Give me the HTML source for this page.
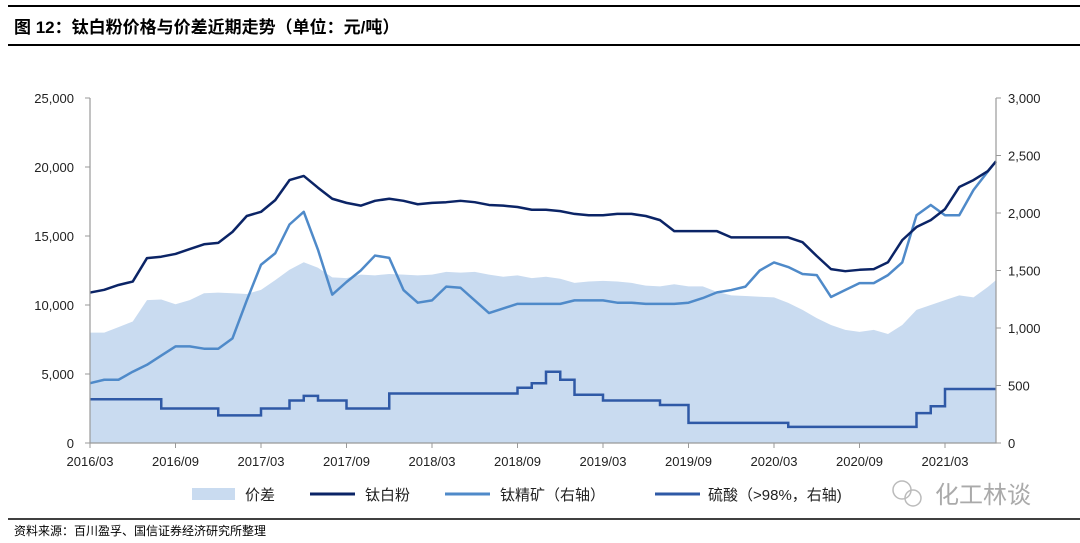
<!DOCTYPE html>
<html><head><meta charset="utf-8">
<style>
body{margin:0;width:1080px;height:543px;background:#fff;overflow:hidden;font-family:"Liberation Sans","Noto Sans CJK SC",sans-serif;}
svg{position:absolute;left:0;top:0;}
</style></head><body>
<svg width="1080" height="543">
<line x1="8" y1="6" x2="1080" y2="6" stroke="#000" stroke-width="2"/>
<text x="14" y="33" font-size="17" font-weight="bold" fill="#000">图 12：钛白粉价格与价差近期走势（单位：元/吨）</text>
<line x1="8" y1="45" x2="1080" y2="45" stroke="#000" stroke-width="2"/>
<g id="plot"></g>
<g id="legend" font-size="15" fill="#222">
 <rect x="192" y="488" width="43" height="12" fill="#c9dbf0"/>
 <text x="245" y="500">价差</text>
 <line x1="310" y1="494" x2="355" y2="494" stroke="#0b2466" stroke-width="3"/>
 <text x="365" y="500">钛白粉</text>
 <line x1="445" y1="494" x2="490" y2="494" stroke="#4f8ac9" stroke-width="3"/>
 <text x="500" y="500">钛精矿（右轴）</text>
 <line x1="655" y1="494" x2="700" y2="494" stroke="#2f59a6" stroke-width="3"/>
 <text x="708" y="500">硫酸（&gt;98%，右轴)</text>
</g>
<g>
 <circle cx="902" cy="490" r="9" fill="none" stroke="#bbb" stroke-width="1.5"/>
 <circle cx="913" cy="498" r="8" fill="none" stroke="#bbb" stroke-width="1.5"/>
 <text x="935" y="503" font-size="24" fill="#aaa">化工林谈</text>
</g>
<line x1="8" y1="519" x2="1080" y2="519" stroke="#000" stroke-width="1.5"/>
<text x="14" y="535" font-size="12" fill="#000">资料来源：百川盈孚、国信证券经济研究所整理</text>
</svg>
<script>
const xTickLabels=["2016/03","2016/09","2017/03","2017/09","2018/03","2018/09","2019/03","2019/09","2020/03","2020/09","2021/03"];
const leftTicks=[0,5000,10000,15000,20000,25000];
const rightTicks=[0,500,1000,1500,2000,2500,3000];
const tio2=[10900,11100,11450,11700,13400,13500,13700,14050,14400,14500,15300,16450,16750,17600,19050,19350,18500,17700,17400,17200,17550,17700,17550,17300,17400,17450,17550,17450,17250,17200,17100,16900,16900,16800,16600,16500,16500,16600,16600,16450,16150,15350,15350,15350,15350,14900,14900,14900,14900,14900,14550,13550,12600,12450,12550,12600,13100,14700,15650,16150,16950,18550,19050,19700,20400];
const ilmenite=[520,550,550,620,680,760,840,840,820,820,910,1240,1550,1650,1900,2010,1680,1290,1400,1500,1630,1610,1330,1220,1240,1360,1350,1240,1130,1170,1210,1210,1210,1210,1240,1240,1240,1220,1220,1210,1210,1210,1220,1260,1310,1330,1360,1500,1570,1530,1470,1460,1270,1330,1390,1390,1460,1570,1980,2070,1980,1980,2200,2360,2450];
const acid=[380,380,380,380,380,300,300,300,300,240,240,240,300,300,370,410,370,370,300,300,300,430,430,430,430,430,430,430,430,430,480,520,620,550,420,420,370,370,370,370,330,330,175,175,175,175,175,175,175,140,140,140,140,140,140,140,140,140,260,320,470,470,470,470,470];
const spread=[8000,8000,8400,8800,10350,10400,10050,10350,10850,10900,10850,10800,11100,11800,12550,13100,12700,12000,11950,12200,12150,12250,12200,12150,12200,12400,12350,12400,12200,12050,12150,11950,12050,11900,11600,11700,11750,11700,11600,11400,11350,11500,11350,11350,10950,10700,10650,10600,10550,10150,9650,9050,8550,8200,8050,8200,7900,8550,9650,10000,10350,10700,10550,11300,11800];
const X0=90,X1=996,Y0=443,Y1=98,MW=14.25;
const xm=m=>X0+m*MW;
const yl=v=>Y0-(v/25000)*(Y0-Y1);
const yr=v=>Y0-(v/3000)*(Y0-Y1);
const NS="http://www.w3.org/2000/svg";
const g=document.getElementById('plot');
function mk(t,a){const e=document.createElementNS(NS,t);for(const k in a)e.setAttribute(k,a[k]);g.appendChild(e);return e;}
let d=`M${xm(0)},${Y0}`;spread.forEach((v,i)=>{d+=`L${Math.min(xm(i),X1)},${yl(v)}`});d+=`L${X1},${yl(spread[spread.length-1])}L${X1},${Y0}Z`;
const area=mk('path',{d:d,fill:'#c9dbf0'});


function stepPath(arr,f){let p='';arr.forEach((v,i)=>{const x=Math.min(xm(i),X1),y=f(v);if(i==0)p=`M${x},${y}`;else p+=`H${x}V${y}`;});p+=`H${X1}`;return p;}
function linePath(arr,f){let p='';arr.forEach((v,i)=>{p+=(i?'L':'M')+Math.min(xm(i),X1)+','+f(v)});p+=`L${X1},${f(arr[arr.length-1])}`;return p;}
const lIl=mk('path',{d:linePath(ilmenite,yr),fill:'none',stroke:'#4f8ac9','stroke-width':2.5,'stroke-linejoin':'round'});


const lAc=mk('path',{d:stepPath(acid,yr),fill:'none',stroke:'#2f59a6','stroke-width':2.5});


const lTi=mk('path',{d:linePath(tio2,yl),fill:'none',stroke:'#0b2466','stroke-width':2.5,'stroke-linejoin':'round'});


const ax=mk('path',{d:`M${X0},${Y1}V${Y0}H${X1}V${Y1}`,fill:'none',stroke:'#999','stroke-width':1.2});


leftTicks.forEach(v=>{const y=yl(v);mk('line',{x1:X0-5,y1:y,x2:X0,y2:y,stroke:'#999'});
 const t=mk('text',{x:X0-16,y:y+5,'text-anchor':'end','font-size':13,fill:'#222'});t.textContent=v.toLocaleString('en-US');
 
 });
rightTicks.forEach(v=>{const y=yr(v);mk('line',{x1:X1,y1:y,x2:X1+5,y2:y,stroke:'#999'});
 const t=mk('text',{x:X1+12,y:y+5,'font-size':13,fill:'#222'});t.textContent=v.toLocaleString('en-US');
 
 });
xTickLabels.forEach((s,i)=>{const x=xm(i*6);mk('line',{x1:x,y1:Y0,x2:x,y2:Y0+5,stroke:'#999'});
 const t=mk('text',{x:x,y:Y0+23,'text-anchor':'middle','font-size':13,fill:'#222'});t.textContent=s;
 
 });
</script>
</body></html>
